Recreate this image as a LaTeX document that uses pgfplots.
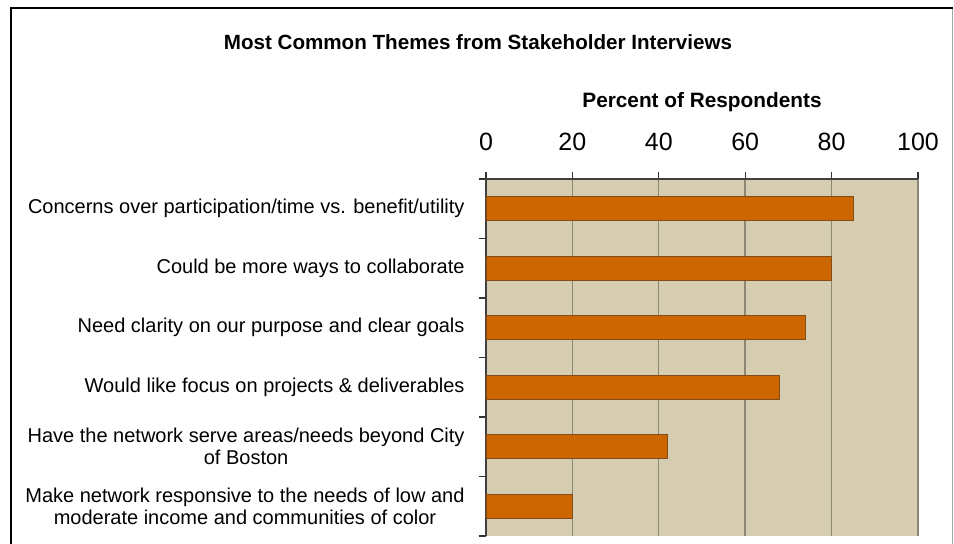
\documentclass[border=0pt]{standalone}
\usepackage{pgfplots}
\pgfplotsset{compat=1.18}
\usepackage{fontspec}
\setmainfont{Liberation Sans}
\definecolor{bgtan}{RGB}{214,205,176}
\definecolor{gridc}{RGB}{140,135,115}
\definecolor{barc}{RGB}{204,102,0}
\definecolor{bard}{RGB}{130,75,25}
\begin{document}
\begin{tikzpicture}
\useasboundingbox (0,0) rectangle (477pt,-271.5pt);
\fill[white] (0,0) rectangle (477pt,-271.5pt);
\draw[line width=1pt,black] (5.5pt,-275pt) -- (5.5pt,-4pt) -- (476.5pt,-4pt);
\draw[line width=0.6pt,gray!70] (476.3pt,-4.5pt) -- (476.3pt,-275pt);
\node[font=\fontsize{10.3}{12}\selectfont\bfseries] at (239pt,-21pt) {Most Common Themes from Stakeholder Interviews};
\begin{axis}[
  at={(243pt,-89.5pt)}, anchor=north west,
  scale only axis, width=216pt, height=178.5pt,
  xbar, bar width=12pt,
  xmin=0, xmax=100,
  ymin=-0.5, ymax=5.5, y dir=reverse,
  axis x line*=top, axis y line*=left,
  axis line style={draw=black!75, line width=0.7pt},
  axis background/.style={fill=bgtan},
  xtick={0,20,40,60,80,100},
  xmajorgrids, major grid style={draw=gridc, line width=0.7pt},
  tick align=outside,
  major tick length=3.7pt,
  tick style={draw=black!80, line width=0.6pt},
  ytick={-0.5,0.5,...,5.5}, yticklabels={},
  extra y ticks={0,1,2,3,4,5},
  extra y tick labels={
    {Concerns over participation/time vs. benefit/utility},
    {Could be more ways to collaborate},
    {Need clarity on our purpose and clear goals},
    {Would like focus on projects \& deliverables},
    {Have the network serve areas/needs beyond City\\of Boston},
    {Make network responsive to the needs of low and\\moderate income and communities of color}},
  extra y tick style={major tick length=0pt, ymajorgrids=false,
    yticklabel style={align=center, font=\fontsize{10}{11}\selectfont, xshift=-7.2pt}},
  /pgf/number format/assume math mode=true,
  xticklabel style={font=\fontsize{12.5}{14}\selectfont, yshift=7pt},
  xlabel={Percent of Respondents},
  xlabel style={font=\fontsize{10.4}{12}\selectfont\bfseries, at={(axis description cs:0.5,1)}, anchor=center, yshift=38.5pt},
]
\addplot[fill=barc, draw=bard, line width=0.6pt] coordinates {
  (85,0) (80,1) (74,2) (68,3) (42,4) (20,5)
};
\end{axis}
\end{tikzpicture}
\end{document}
